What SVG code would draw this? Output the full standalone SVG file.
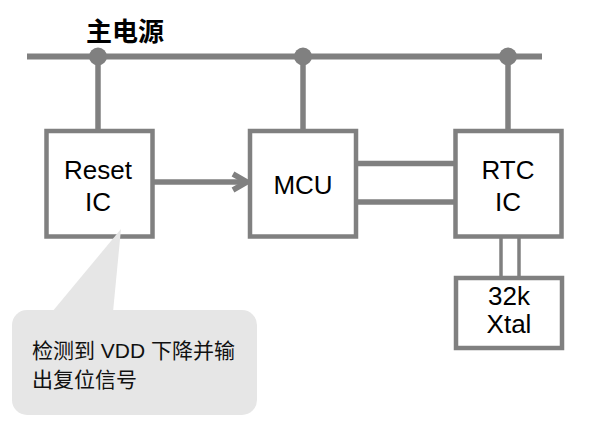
<svg xmlns="http://www.w3.org/2000/svg" width="595" height="432" viewBox="0 0 595 432">
<defs>
<style>
.box{fill:#fff;stroke:#808080;stroke-width:4.5}
.wire{stroke:#808080;fill:none}
.lbl{font-family:"Liberation Sans",Arial,sans-serif;font-size:26px;fill:#000;text-anchor:middle}
.cjk{font-family:"Liberation Sans","Noto Sans CJK SC",sans-serif;font-size:21px;fill:#111}
.dot{fill:#808080}
</style>
</defs>
<rect width="595" height="432" fill="#fff"/>
<text x="86" y="41" font-family="'Noto Sans CJK SC',sans-serif" font-size="26" font-weight="bold" fill="#000">主电源</text>
<g id="connectors">
<line class="wire" x1="27" y1="56.5" x2="542" y2="56.5" stroke-width="6"/>
<line class="wire" x1="98" y1="56" x2="98" y2="131" stroke-width="5.5"/>
<line class="wire" x1="303" y1="56" x2="303" y2="131" stroke-width="5.5"/>
<line class="wire" x1="508" y1="56" x2="508" y2="131" stroke-width="5.5"/>
<circle class="dot" cx="98" cy="56.5" r="9"/>
<circle class="dot" cx="303" cy="56.5" r="9"/>
<circle class="dot" cx="508" cy="56.5" r="9"/>
<line class="wire" x1="153" y1="182" x2="244" y2="182" stroke-width="5.5"/>
<polyline class="wire" points="233,174 247,182 233,190" stroke-width="5.5" stroke-linejoin="miter"/>
<line class="wire" x1="357" y1="163.5" x2="455" y2="163.5" stroke-width="5.5"/>
<line class="wire" x1="357" y1="202" x2="455" y2="202" stroke-width="5.5"/>
<line class="wire" x1="501" y1="236" x2="501" y2="277" stroke-width="3.5"/>
<line class="wire" x1="519" y1="236" x2="519" y2="277" stroke-width="3.5"/>
</g>
<g id="reset">
<rect class="box" x="46.5" y="131" width="106" height="105.5"/>
<text class="lbl" x="98" y="179">Reset</text>
<text class="lbl" x="98" y="211">IC</text>
</g>
<g id="mcu">
<rect class="box" x="250" y="131" width="106" height="105.5"/>
<text class="lbl" x="303" y="194">MCU</text>
</g>
<g id="rtc">
<rect class="box" x="455.5" y="131" width="106" height="105.5"/>
<text class="lbl" x="508" y="179">RTC</text>
<text class="lbl" x="508" y="211">IC</text>
</g>
<g id="xtal">
<rect class="box" x="456" y="278" width="106" height="70"/>
<text class="lbl" x="509" y="305" font-size="23">32k</text>
<text class="lbl" x="509" y="333" font-size="23">Xtal</text>
</g>
<g id="callout">
<path d="M52,312 L121,229 L113,312 Z" fill="#e6e6e6"/>
<rect x="12" y="310" width="245" height="105" rx="15" fill="#e6e6e6"/>
<text class="cjk" x="32" y="358">检测到 VDD 下降并输</text>
<text class="cjk" x="32" y="387">出复位信号</text>
</g>
</svg>
